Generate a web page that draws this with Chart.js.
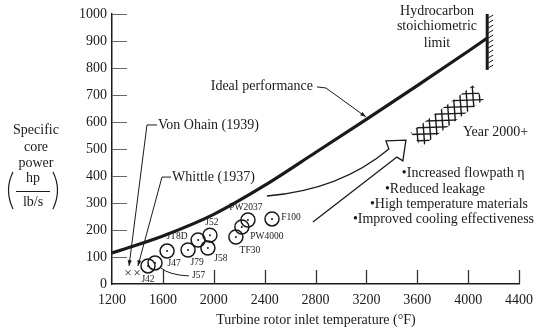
<!DOCTYPE html>
<html>
<head>
<meta charset="utf-8">
<script src="https://cdn.jsdelivr.net/npm/chart.js@4.4.1/dist/chart.umd.min.js"></script>
<style>
  html, body { margin: 0; background: #fff; }
  #wrap { width: 534px; height: 331px; }
</style>
</head>
<body>
<div id="wrap"><canvas id="chart"></canvas></div>
<script>
// Ideal performance curve (turbine inlet temp °F vs specific core power hp/(lb/s))
const idealTemp = [1200, 1600, 2000, 2400, 2800, 3200, 3600, 4000, 4150]
const idealPower = [115, 178, 258, 365, 487, 610, 735, 862, 911]

// Engines
const engines = ["J42", "J57", "J47", "J79", "JT8D", "J52", "J58", "TF30", "PW4000", "PW2037", "F100"]
const engineTemp = [1483, 1538, 1633, 1798, 1877, 1970, 1954, 2174, 2221, 2269, 2458]
const enginePower = [67, 78, 122, 126, 163, 181, 133, 174, 211, 237, 241]

// First jet engines (the two X marks)
const pioneers = ["Von Ohain (1939)", "Whittle (1937)"]
const pioneerTemp = [1326, 1397]
const pioneerPower = [42, 42]

// Hydrocarbon stoichiometric limit and year 2000+ goal band
const limitTemp = [4150, 4150]
const limitPower = [793, 1000]
const goalTemp = [3590, 4080]
const goalPower = [535, 710]

const improvements = ["•Increased flowpath η", "•Reduced leakage", "•High temperature materials", "•Improved cooling effectiveness"]

const xTicks = [1200, 1600, 2000, 2400, 2800, 3200, 3600, 4000, 4400]
const yTicks = [0, 100, 200, 300, 400, 500, 600, 700, 800, 900, 1000]

const FONT = "'Liberation Serif', 'DejaVu Serif', serif"
const INK = "#1a1a1a"

// label placement around each engine circle, pixels from the centre
const engineLabelPos = {
  J42: [0, 14, "center"], J57: [37, 13, "left"], J47: [7, 12, "center"], J79: [9, 13, "center"],
  JT8D: [-21, -3, "center"], J52: [2, -13, "center"], J58: [13, 10, "center"], TF30: [14, 13, "center"],
  PW4000: [25, 9, "center"], PW2037: [-2, -13, "center"], F100: [19, -1, "center"],
}

const arrowHead = (ctx, x0, y0, x1, y1, size = 6) => {
  const a = Math.atan2(y1 - y0, x1 - x0)
  ctx.beginPath()
  ctx.moveTo(x1, y1)
  ctx.lineTo(x1 - size * Math.cos(a - 0.35), y1 - size * Math.sin(a - 0.35))
  ctx.lineTo(x1 - size * Math.cos(a + 0.35), y1 - size * Math.sin(a + 0.35))
  ctx.closePath()
  ctx.fill()
}

const decorations = {
  id: "decorations",
  afterDatasetsDraw(chart) {
    const { ctx, scales: { x, y } } = chart
    const P = (t, p) => [x.getPixelForValue(t), y.getPixelForValue(p)]
    ctx.save()
    ctx.strokeStyle = INK
    ctx.fillStyle = INK

    // inward ticks
    ctx.lineWidth = 1
    ctx.strokeStyle = "#666"
    yTicks.slice(1).forEach((v) => {
      const py = Math.round(y.getPixelForValue(v)) + 0.5
      ctx.beginPath(); ctx.moveTo(x.left, py); ctx.lineTo(x.left + 15, py); ctx.stroke()
    })
    ctx.strokeStyle = "#333"
    ctx.lineWidth = 1.3
    xTicks.slice(1).forEach((v) => {
      const px = Math.round(x.getPixelForValue(v)) + 0.5
      ctx.beginPath(); ctx.moveTo(px, y.bottom); ctx.lineTo(px, y.bottom - 14); ctx.stroke()
    })
    ctx.strokeStyle = INK

    // engine labels
    ctx.font = `9.5px ${FONT}`
    ctx.textBaseline = "middle"
    engines.forEach((name, i) => {
      const [cx, cy] = P(engineTemp[i], enginePower[i])
      const [dx, dy, align] = engineLabelPos[name]
      ctx.textAlign = align
      ctx.fillText(name, cx + dx, cy + dy)
      if (name === "J57") {
        ctx.lineWidth = 1
        ctx.beginPath()
        ctx.moveTo(cx + 6, cy + 5)
        ctx.quadraticCurveTo(cx + 14, cy + 12, cx + 34, cy + 13)
        ctx.stroke()
      }
    })

    // pioneer leaders
    ctx.font = `14px ${FONT}`
    ctx.textAlign = "left"
    ctx.lineWidth = 1
    const leaders = [
      { text: [1562, 589], corner: [1475, 589], tip: [1334, 67] },
      { text: [1672, 396], corner: [1593, 396], tip: [1404, 67] },
    ]
    leaders.forEach((l, i) => {
      const [tx, ty] = P(...l.text)
      const [cx, cy] = P(...l.corner)
      const [ax, ay] = P(...l.tip)
      ctx.fillText(pioneers[i], tx, ty)
      ctx.beginPath(); ctx.moveTo(tx - 1, cy); ctx.lineTo(cx, cy); ctx.lineTo(ax, ay); ctx.stroke()
      arrowHead(ctx, cx, cy, ax, ay, 6)
    })

    // ideal performance label
    ctx.textAlign = "right"
    let [lx, ly] = P(2780, 733)
    ctx.fillText("Ideal performance", lx, ly)
    let [a1x, a1y] = P(2811, 730), [a2x, a2y] = P(2882, 726), [a3x, a3y] = P(3196, 619)
    ctx.beginPath(); ctx.moveTo(a1x, a1y); ctx.lineTo(a2x, a2y); ctx.lineTo(a3x, a3y); ctx.stroke()
    arrowHead(ctx, a2x, a2y, a3x, a3y, 6)

    // stoichiometric limit
    ctx.textAlign = "center"
    let [hx] = P(3755, 0)
    ;["Hydrocarbon", "stoichiometric", "limit"].forEach((s, i) => {
      ctx.fillText(s, hx, y.getPixelForValue([1011, 956, 893][i]))
    })
    const [sx, sTop] = P(limitTemp[1], limitPower[1])
    const [, sBot] = P(limitTemp[0], limitPower[0])
    ctx.lineWidth = 3
    ctx.beginPath(); ctx.moveTo(sx, sTop); ctx.lineTo(sx, sBot); ctx.stroke()
    ctx.lineWidth = 1
    for (let yy = sTop + 4; yy < sBot; yy += 5) {
      ctx.beginPath(); ctx.moveTo(sx + 1, yy); ctx.lineTo(sx + 6, yy - 3); ctx.stroke()
    }

    // year 2000+ cross-hatched band
    const [g0x, g0y] = P(goalTemp[0], goalPower[0])
    const [g1x, g1y] = P(goalTemp[1], goalPower[1])
    const len = Math.hypot(g1x - g0x, g1y - g0y)
    const nx = -(g1y - g0y) / len * 9, ny = (g1x - g0x) / len * 9
    ctx.save()
    ctx.beginPath()
    ctx.moveTo(g0x + nx, g0y + ny); ctx.lineTo(g1x + nx, g1y + ny)
    ctx.lineTo(g1x - nx, g1y - ny); ctx.lineTo(g0x - nx, g0y - ny); ctx.closePath()
    ctx.clip()
    ctx.lineWidth = 1.4
    for (let xx = Math.min(g0x, g1x) - 14; xx < Math.max(g0x, g1x) + 14; xx += 6.5) {
      ctx.beginPath(); ctx.moveTo(xx - 2, g1y - 16); ctx.lineTo(xx + 4, g0y + 16); ctx.stroke()
    }
    for (let yy = g1y - 16; yy < g0y + 16; yy += 6.5) {
      ctx.beginPath(); ctx.moveTo(g0x - 16, yy); ctx.lineTo(g1x + 16, yy - 3); ctx.stroke()
    }
    ctx.restore()
    ctx.textAlign = "left"
    ctx.fillText("Year 2000+", ...P(3959, 563))

    // hollow trend arrow
    ctx.lineWidth = 1.3
    ctx.beginPath()
    ctx.moveTo(...P(2418, 326))
    ctx.quadraticCurveTo(...P(2992, 348), ...P(3377, 500))
    ctx.lineTo(...P(3354, 530))
    ctx.lineTo(...P(3511, 533))
    ctx.lineTo(...P(3487, 456))
    ctx.lineTo(...P(3440, 470))
    ctx.lineTo(...P(2780, 230))
    ctx.stroke()

    // improvements list
    const bulletPos = [[3479, 411], [3346, 352], [3228, 296], [3094, 241]]
    improvements.forEach((s, i) => ctx.fillText(s, ...P(...bulletPos[i])))

    // axis titles
    ctx.textAlign = "center"
    ctx.fillText("Turbine rotor inlet temperature (°F)", 316, 320)
    ;[["Specific", 130], ["core", 147], ["power", 163], ["hp", 178], ["lb/s", 202]].forEach(([s, yy]) => {
      ctx.fillText(s, s === "hp" || s === "lb/s" ? 33 : 36, yy)
    })
    ctx.lineWidth = 1
    ctx.beginPath(); ctx.moveTo(16, 191.5); ctx.lineTo(50, 191.5); ctx.stroke()
    ctx.lineWidth = 1.2
    ctx.beginPath(); ctx.moveTo(13, 172); ctx.quadraticCurveTo(4, 190, 13, 209); ctx.stroke()
    ctx.beginPath(); ctx.moveTo(53, 172); ctx.quadraticCurveTo(62, 190, 53, 209); ctx.stroke()
    ctx.restore()
  },
}

new Chart(document.getElementById("chart"), {
  data: {
    datasets: [
      {
        type: "line",
        data: idealTemp.map((t, i) => ({ x: t, y: idealPower[i] })),
        borderColor: INK,
        borderWidth: 3.2,
        pointRadius: 0,
        cubicInterpolationMode: "monotone",
        fill: false,
      },
      {
        type: "scatter",
        data: engineTemp.map((t, i) => ({ x: t, y: enginePower[i] })),
        pointRadius: 7,
        borderColor: INK,
        borderWidth: 1.5,
        backgroundColor: "rgba(0,0,0,0)",
      },
      {
        type: "scatter",
        data: engineTemp.map((t, i) => ({ x: t, y: enginePower[i] })),
        pointRadius: 1,
        borderWidth: 0,
        backgroundColor: INK,
      },
      {
        type: "scatter",
        data: pioneerTemp.map((t, i) => ({ x: t, y: pioneerPower[i] })),
        pointStyle: "crossRot",
        pointRadius: 3.5,
        borderColor: "#333",
        borderWidth: 1,
      },
    ],
  },
  options: {
    responsive: true,
    maintainAspectRatio: false,
    animation: false,
    events: [],
    layout: { padding: { top: 14, right: 15, left: 0, bottom: 0 } },
    plugins: { legend: { display: false }, tooltip: { enabled: false } },
    scales: {
      x: {
        type: "linear",
        min: 1200,
        max: 4400,
        afterBuildTicks: (s) => { s.ticks = xTicks.map((v) => ({ value: v })) },
        afterFit: (s) => { s.height = 47; s.paddingLeft = 0; s.paddingRight = 0 },
        ticks: { font: { family: FONT, size: 14 }, color: INK, padding: 8, maxRotation: 0, callback: (v) => String(v) },
        grid: { drawOnChartArea: false, drawTicks: false },
        border: { display: true, color: INK, width: 1.5 },
      },
      y: {
        type: "linear",
        min: 0,
        max: 1000,
        afterBuildTicks: (s) => { s.ticks = yTicks.map((v) => ({ value: v })) },
        afterFit: (s) => { s.width = 112; s.paddingTop = 0; s.paddingBottom = 0 },
        ticks: { font: { family: FONT, size: 14 }, color: INK, padding: 5, callback: (v) => String(v) },
        grid: { drawOnChartArea: false, drawTicks: false },
        border: { display: true, color: INK, width: 1.5 },
      },
    },
  },
  plugins: [decorations],
})
</script>
</body>
</html>
